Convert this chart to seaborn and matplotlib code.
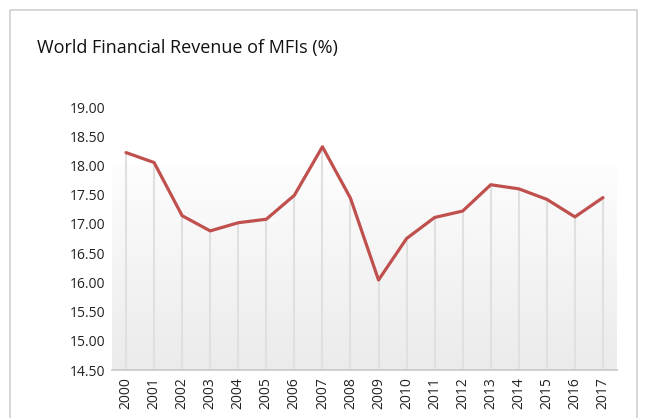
import numpy as np
import pandas as pd
import matplotlib
matplotlib.use("Agg")
import matplotlib.pyplot as plt
import seaborn as sns

years = list(range(2000, 2018))
revenue = [18.22, 18.05, 17.14, 16.88, 17.02, 17.08, 17.49, 18.32, 17.44,
           16.04, 16.75, 17.11, 17.22, 17.67, 17.60, 17.42, 17.12, 17.45]
y_ticks = [14.5, 15.0, 15.5, 16.0, 16.5, 17.0, 17.5, 18.0, 18.5, 19.0]

df = pd.DataFrame({"Year": years, "Revenue": revenue})
df["pos"] = np.arange(len(df))

sns.set_style("white")
plt.rcParams["font.family"] = ["Open Sans", "DejaVu Sans"]

fig = plt.figure(figsize=(6.52, 4.18), dpi=100)
ax = fig.add_axes([0.1718, 0.1148, 0.7745, 0.6292])

# chart border (left, top, right)
fig.add_artist(plt.Line2D([0.015, 0.015, 0.977, 0.977], [0.0, 0.976, 0.976, 0.0],
                          transform=fig.transFigure, color="#D0D0D0", lw=1.2))

x0, x1 = -0.5, len(df) - 0.5
grad = np.linspace(0, 1, 256).reshape(-1, 1)
cmap = matplotlib.colors.LinearSegmentedColormap.from_list("g", ["#FDFDFD", "#EBEBEB"])
ax.imshow(grad, extent=[x0, x1, 14.5, 18.0], aspect="auto", cmap=cmap,
          origin="upper", zorder=0)

ax.vlines(df["pos"], 14.5, df["Revenue"], color="#E0E0E0", lw=1.5, zorder=1)
sns.lineplot(data=df, x="pos", y="Revenue", ax=ax, color="#C0504D", lw=2.3, zorder=3)

ax.set_xlim(x0, x1)
ax.set_ylim(14.5, 19.0)
ax.set_xticks(df["pos"])
ax.set_xticklabels([str(y) for y in years], rotation=90, fontsize=10, color="#222222")
ax.set_yticks(y_ticks)
ax.set_yticklabels([f"{v:.2f}" for v in y_ticks], fontsize=10, color="#222222")
ax.tick_params(axis="both", length=0, pad=5)
ax.set_xlabel("")
ax.set_ylabel("")
for s in ["left", "top", "right"]:
    ax.spines[s].set_visible(False)
ax.spines["bottom"].set_color("#C8C8C8")
ax.spines["bottom"].set_linewidth(1.2)

fig.text(0.057, 0.886, "World Financial Revenue of MFIs (%)", fontsize=13,
         color="#111111", va="center", ha="left")

fig.savefig("out.png", dpi=100)
